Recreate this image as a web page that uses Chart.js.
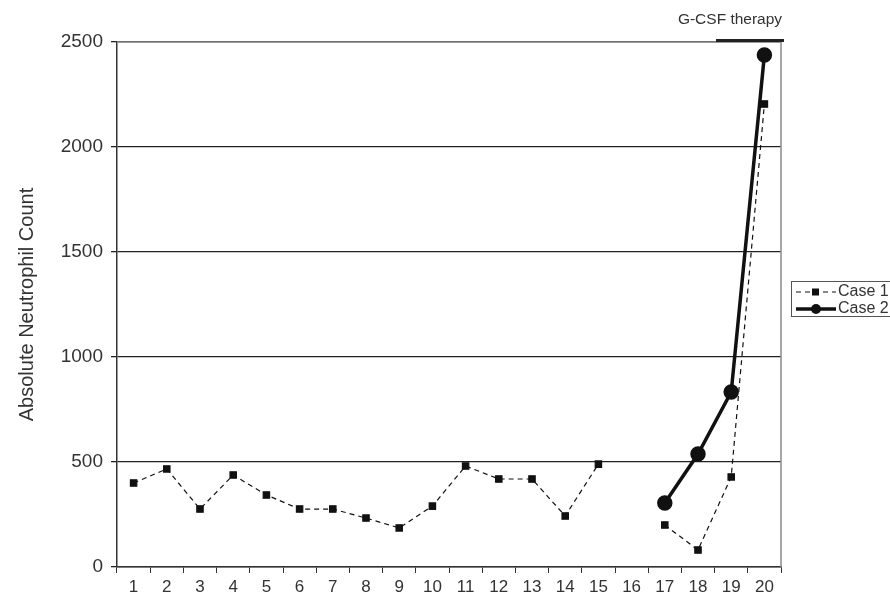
<!DOCTYPE html>
<html>
<head>
<meta charset="utf-8">
<script src="https://cdn.jsdelivr.net/npm/chart.js@4.4.1/dist/chart.umd.min.js"></script>
<style>
  html, body { margin: 0; padding: 0; background: #fff; }
  #wrap { position: relative; width: 890px; height: 596px; }
</style>
</head>
<body>
<div id="wrap"><canvas id="grafico" width="890" height="596"></canvas></div>
<script>
const dias = ["1","2","3","4","5","6","7","8","9","10","11","12","13","14","15","16","17","18","19","20"];
const caso1 = [400, 467, 276, 438, 343, 276, 276, 233, 186, 290, 481, 419, 419, 243, 490, null, 200, 81, 429, 2205];
const caso2 = [null, null, null, null, null, null, null, null, null, null, null, null, null, null, null, null, 305, 538, 833, 2438];
const ticksY = [0, 500, 1000, 1500, 2000, 2500];

const fonte = "'Liberation Sans', Arial, sans-serif";

// legenda + barra de G-CSF desenhadas a mao
const extras = {
  id: "extras",
  afterDraw(chart) {
    const ctx = chart.ctx;
    const area = chart.chartArea;
    ctx.save();

    // borda cinza topo/direita
    ctx.strokeStyle = "#8a8a8a";
    ctx.lineWidth = 1.5;
    ctx.beginPath();
    ctx.moveTo(area.left, area.top);
    ctx.lineTo(area.right, area.top);
    ctx.lineTo(area.right, area.bottom);
    ctx.stroke();

    // barra da terapia
    ctx.strokeStyle = "#222";
    ctx.lineWidth = 3;
    ctx.beginPath();
    ctx.moveTo(716, area.top - 1.5);
    ctx.lineTo(784, area.top - 1.5);
    ctx.stroke();

    ctx.fillStyle = "#333";
    ctx.font = "15.5px " + fonte;
    ctx.textAlign = "center";
    ctx.textBaseline = "middle";
    ctx.fillText("G-CSF therapy", 730, 20);

    // legenda
    ctx.strokeStyle = "#555";
    ctx.lineWidth = 1;
    ctx.strokeRect(791.5, 281.5, 110, 35);

    ctx.strokeStyle = "#111";
    ctx.fillStyle = "#111";
    ctx.lineWidth = 1.2;
    ctx.setLineDash([5, 4]);
    ctx.beginPath();
    ctx.moveTo(796, 292);
    ctx.lineTo(836, 292);
    ctx.stroke();
    ctx.setLineDash([]);
    ctx.fillRect(812, 288.5, 7, 7);

    ctx.lineWidth = 3.5;
    ctx.beginPath();
    ctx.moveTo(796, 309);
    ctx.lineTo(836, 309);
    ctx.stroke();
    ctx.beginPath();
    ctx.arc(816, 309, 5, 0, Math.PI * 2);
    ctx.fill();

    ctx.fillStyle = "#333";
    ctx.font = "16px " + fonte;
    ctx.textAlign = "left";
    ctx.fillText("Case 1", 838, 292);
    ctx.fillText("Case 2", 838, 309);
    ctx.restore();
  },
};

const ctx = document.getElementById("grafico").getContext("2d");
new Chart(ctx, {
  type: "line",
  data: {
    labels: dias,
    datasets: [
      {
        label: "Case 1",
        data: caso1,
        borderColor: "#111",
        backgroundColor: "#111",
        borderWidth: 1.2,
        borderDash: [5, 4],
        pointStyle: "rect",
        pointRadius: 4.5,
        spanGaps: false,
        tension: 0,
      },
      {
        label: "Case 2",
        data: caso2,
        borderColor: "#111",
        backgroundColor: "#111",
        borderWidth: 3.5,
        pointStyle: "circle",
        pointRadius: 6,
        spanGaps: false,
        tension: 0,
      },
    ],
  },
  options: {
    responsive: false,
    animation: false,
    layout: { padding: { top: 42, right: 109, left: 0, bottom: 0 } },
    plugins: {
      legend: { display: false },
      tooltip: { enabled: false },
    },
    scales: {
      x: {
        offset: true,
        grid: {
          display: true,
          offset: true,
          drawOnChartArea: false,
          drawTicks: true,
          tickLength: 6,
          color: "#333",
        },
        border: { color: "#333", width: 1.5 },
        ticks: { color: "#333", font: { family: fonte, size: 17 }, padding: 4, maxRotation: 0, autoSkip: false },
        afterFit(scale) { scale.height = 29; },
      },
      y: {
        min: 0,
        max: 2500,
        afterBuildTicks(scale) { scale.ticks = ticksY.map((v) => ({ value: v })); },
        grid: { color: "#222", lineWidth: 1.3, tickLength: 6, drawTicks: true },
        border: { color: "#333", width: 1.5 },
        ticks: {
          color: "#333",
          font: { family: fonte, size: 19 },
          padding: 8,
          callback: (v) => String(v),
        },
        title: {
          display: true,
          text: "Absolute Neutrophil Count",
          color: "#333",
          font: { family: fonte, size: 20 },
          padding: { top: 15, bottom: 10 },
        },
        afterFit(scale) { scale.width = 117; },
      },
    },
  },
  plugins: [extras],
});
</script>
</body>
</html>
